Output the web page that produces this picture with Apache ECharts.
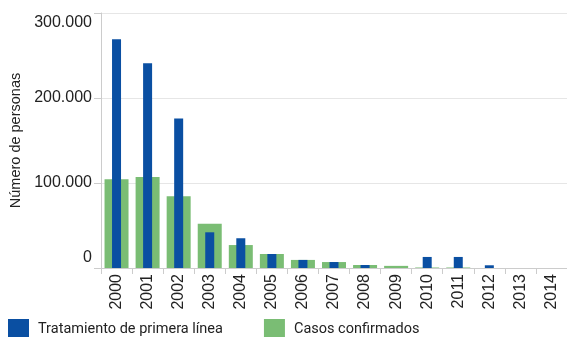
<!DOCTYPE html>
<html>
<head>
<meta charset="utf-8">
<script src="https://cdn.jsdelivr.net/npm/echarts@6/dist/echarts.min.js"></script>
<style>
  html, body { margin: 0; padding: 0; background: #fff; }
  #main { width: 567px; height: 337px; }
</style>
</head>
<body>
<div id="main"></div>
<script>
const years = ['2000', '2001', '2002', '2003', '2004', '2005', '2006', '2007',
    '2008', '2009', '2010', '2011', '2012', '2013', '2014']
const tratamiento = [269000, 241000, 176000, 42000, 35000, 16500, 9500, 7000,
    3500, 0, 13000, 13000, 3200, 0, 0]
const casos = [104500, 107000, 84500, 52000, 27000, 16500, 9500, 7000,
    3500, 2500, 600, 600, 0, 0, 0]

const fmt = v => String(v).replace(/\B(?=(\d{3})+(?!\d))/g, '.')

const chart = echarts.init(document.getElementById('main'))

chart.setOption({
    animation: false,
    legend: {
        left: 3,
        top: 314,
        itemWidth: 21,
        itemHeight: 20,
        itemGap: 41,
        icon: 'rect',
        textStyle: {
            fontFamily: 'Roboto',
            fontSize: 14.5,
            color: '#222',
            padding: [0, 0, 0, 4],
        },
        data: ['Tratamiento de primera línea', 'Casos confirmados'],
    },
    grid: {
        left: 101,
        right: 0,
        top: 13,
        bottom: 69,
        containLabel: false,
    },
    xAxis: [
        {
            type: 'category',
            data: years,
            axisLine: { lineStyle: { color: '#cccccc' } },
            axisTick: { show: true, length: 6, lineStyle: { color: '#cccccc' } },
            axisLabel: {
                rotate: 90,
                color: '#222',
                fontFamily: 'Liberation Sans',
                fontSize: 16,
                margin: 6,
            },
        },
        {
            type: 'category',
            data: years,
            show: false,
        },
    ],
    yAxis: {
        type: 'value',
        min: 0,
        max: 300000,
        interval: 100000,
        name: 'Número de personas',
        nameLocation: 'middle',
        nameGap: 78,
        nameTextStyle: {
            fontFamily: 'Liberation Sans',
            fontSize: 14.5,
            color: '#222',
        },
        axisLine: { show: true, lineStyle: { color: '#cccccc' } },
        axisTick: { show: true, length: 7, lineStyle: { color: '#cccccc' } },
        splitLine: { lineStyle: { color: '#e6e6e6' } },
        axisLabel: {
            formatter: v => {
                if (v === 300000) return '{top|' + fmt(v) + '}'
                if (v === 0) return '{bot|' + fmt(v) + '}'
                return fmt(v)
            },
            color: '#222',
            fontFamily: 'Liberation Sans',
            fontSize: 16,
            margin: 9,
            rich: {
                top: {
                    fontFamily: 'Liberation Sans',
                    fontSize: 16,
                    color: '#222',
                    padding: [20, 0, 0, 0],
                },
                bot: {
                    fontFamily: 'Liberation Sans',
                    fontSize: 16,
                    color: '#222',
                    padding: [0, 0, 20, 0],
                },
            },
        },
    },
    series: [
        {
            name: 'Casos confirmados',
            type: 'bar',
            xAxisIndex: 0,
            barWidth: 24,
            itemStyle: { color: '#7abd74' },
            data: casos,
        },
        {
            name: 'Tratamiento de primera línea',
            type: 'bar',
            xAxisIndex: 1,
            barWidth: 9,
            itemStyle: { color: '#0a4fa2' },
            data: tratamiento,
        },
    ],
})
</script>
</body>
</html>
